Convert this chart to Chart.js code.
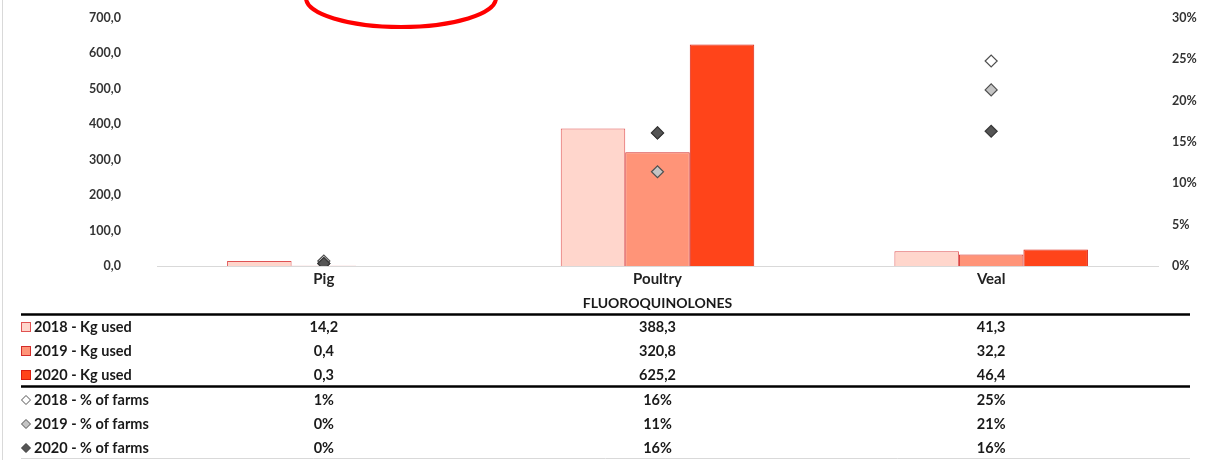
<!DOCTYPE html>
<html>
<head>
<meta charset="utf-8">
<script src="https://cdn.jsdelivr.net/npm/chart.js@4"></script>
<style>
html,body{margin:0;padding:0;background:#fff;}
#wrap{width:1224px;height:460px;position:relative;}
</style>
</head>
<body>
<div id="wrap"><canvas id="c" width="1224" height="460"></canvas></div>
<script>
const categories = ["Pig", "Poultry", "Veal"];
const groupLabel = "FLUOROQUINOLONES";
const kg2018 = [14.2, 388.3, 41.3];
const kg2019 = [0.4, 320.8, 32.2];
const kg2020 = [0.3, 625.2, 46.4];
const pct2018 = [0.6, 16.1, 24.8];
const pct2019 = [0.3, 11.4, 21.3];
const pct2020 = [0.3, 16.1, 16.3];
const kgTicks = [0, 100, 200, 300, 400, 500, 600, 700];
const pctTicks = [0, 5, 10, 15, 20, 25, 30];

const FONT = "Lato, 'Open Sans', sans-serif";
const fmtKg = v => v.toFixed(1).replace('.', ',');
const fmtPct = v => Math.round(v) + '%';

const barStyles = [
  {bg:'#FFD6CC', bd:'#E05252'},
  {bg:'#FF9478', bd:'#D42C2A'},
  {bg:'#FF441A', bd:'#D81E10'}
];
const ptStyles = [
  {bg:'#FFFFFF', bd:'#505050'},
  {bg:'#C4C4C4', bd:'#505050'},
  {bg:'#555555', bd:'#383838'}
];

const rows = [
  {label:'2018 - Kg used', data:kg2018, fmt:fmtKg, key:'sq', st:barStyles[0]},
  {label:'2019 - Kg used', data:kg2019, fmt:fmtKg, key:'sq', st:barStyles[1]},
  {label:'2020 - Kg used', data:kg2020, fmt:fmtKg, key:'sq', st:barStyles[2]},
  {label:'2018 - % of farms', data:pct2018, fmt:fmtPct, key:'dm', st:ptStyles[0]},
  {label:'2019 - % of farms', data:pct2019, fmt:fmtPct, key:'dm', st:ptStyles[1]},
  {label:'2020 - % of farms', data:pct2020, fmt:fmtPct, key:'dm', st:ptStyles[2]}
];

const tablePlugin = {
  id: 'tablePlugin',
  afterDraw(chart) {
    const ctx = chart.ctx;
    const xs = chart.scales.x;
    const cx = categories.map((c, i) => xs.getPixelForValue(i));
    ctx.save();
    ctx.strokeStyle = '#D9D9D9';
    ctx.lineWidth = 1;
    ctx.beginPath(); ctx.moveTo(2.5, 0); ctx.lineTo(2.5, 460); ctx.stroke();

    ctx.fillStyle = '#222';
    ctx.font = "bold 15px " + FONT;
    ctx.textAlign = 'center';
    ctx.textBaseline = 'middle';
    categories.forEach((c, i) => ctx.fillText(c, cx[i], 279));
    ctx.fillStyle = '#1a1a1a';
    ctx.font = "bold 14px " + FONT;
    ctx.fillText(groupLabel, cx[1], 303);

    ctx.strokeStyle = '#000';
    ctx.lineWidth = 2.5;
    [314.5, 386.5].forEach(y => {
      ctx.beginPath(); ctx.moveTo(21, y); ctx.lineTo(1190, y); ctx.stroke();
    });
    ctx.strokeStyle = '#D9D9D9';
    ctx.lineWidth = 1;
    ctx.beginPath(); ctx.moveTo(21, 458.5); ctx.lineTo(1190, 458.5); ctx.stroke();

    const rowY = [326, 350, 374, 399, 423, 447];
    rows.forEach((r, ri) => {
      const y = rowY[ri];
      ctx.lineWidth = 1;
      ctx.fillStyle = r.st.bg;
      ctx.strokeStyle = r.st.bd;
      if (r.key === 'sq') {
        ctx.fillRect(21.5, y - 3.5, 9, 9);
        ctx.strokeRect(21.5, y - 3.5, 9, 9);
      } else {
        const kx = 26, ky = y + 1, rr = 4.5;
        ctx.beginPath();
        ctx.moveTo(kx - rr, ky); ctx.lineTo(kx, ky - rr);
        ctx.lineTo(kx + rr, ky); ctx.lineTo(kx, ky + rr); ctx.closePath();
        ctx.fill(); ctx.stroke();
      }
      ctx.fillStyle = '#1a1a1a';
      ctx.font = "bold 14.5px " + FONT;
      ctx.textAlign = 'left';
      ctx.fillText(r.label, 34, y + 1);
      ctx.textAlign = 'center';
      r.data.forEach((v, i) => ctx.fillText(r.fmt(v), cx[i], y + 1));
    });

    ctx.strokeStyle = '#FF0000';
    ctx.lineWidth = 4;
    ctx.beginPath();
    ctx.ellipse(401, -2, 95, 29, 0, 0, Math.PI * 2);
    ctx.stroke();
    ctx.restore();
  }
};

const datasets = [];
[kg2018, kg2019, kg2020].forEach((d, i) => {
  datasets.push({
    type: 'bar', label: rows[i].label, data: d, yAxisID: 'y',
    backgroundColor: barStyles[i].bg, borderColor: barStyles[i].bd, borderWidth: 1,
    categoryPercentage: 0.58, barPercentage: 1.0, order: 10
  });
});
[pct2018, pct2019, pct2020].forEach((d, i) => {
  datasets.push({
    type: 'line', label: rows[i + 3].label, data: d, yAxisID: 'y1',
    showLine: false, pointStyle: 'rectRot', pointRadius: 6, pointHoverRadius: 6,
    pointBackgroundColor: ptStyles[i].bg, pointBorderColor: ptStyles[i].bd, pointBorderWidth: 1.2,
    order: 3 - i
  });
});

new Chart(document.getElementById('c'), {
  data: { labels: categories, datasets },
  options: {
    responsive: false, animation: false,
    layout: { padding: { top: 18, left: 0, right: 0, bottom: 0 } },
    plugins: { legend: { display: false }, tooltip: { enabled: false } },
    scales: {
      x: {
        ticks: { display: false },
        grid: { display: false, drawTicks: false },
        border: { display: true, color: '#D9D9D9', width: 1 },
        afterFit(s) { s.height = 194; }
      },
      y: {
        position: 'left', min: 0, max: 700,
        afterBuildTicks(s) { s.ticks = kgTicks.map(v => ({ value: v })); },
        ticks: { padding: 36, color: '#333', font: { family: FONT, size: 12.5, weight: 'bold' }, callback: v => fmtKg(v) },
        grid: { display: false, drawTicks: false },
        border: { display: false },
        afterFit(s) { s.width = 157; s.paddingTop = 0; s.paddingBottom = 0; }
      },
      y1: {
        position: 'right', min: 0, max: 30,
        afterBuildTicks(s) { s.ticks = pctTicks.map(v => ({ value: v })); },
        ticks: { padding: 14, color: '#333', font: { family: FONT, size: 12.5, weight: 'bold' }, callback: v => v + '%' },
        grid: { display: false, drawTicks: false },
        border: { display: false },
        afterFit(s) { s.width = 66; s.paddingTop = 0; s.paddingBottom = 0; }
      }
    }
  },
  plugins: [tablePlugin]
});
</script>
</body>
</html>
